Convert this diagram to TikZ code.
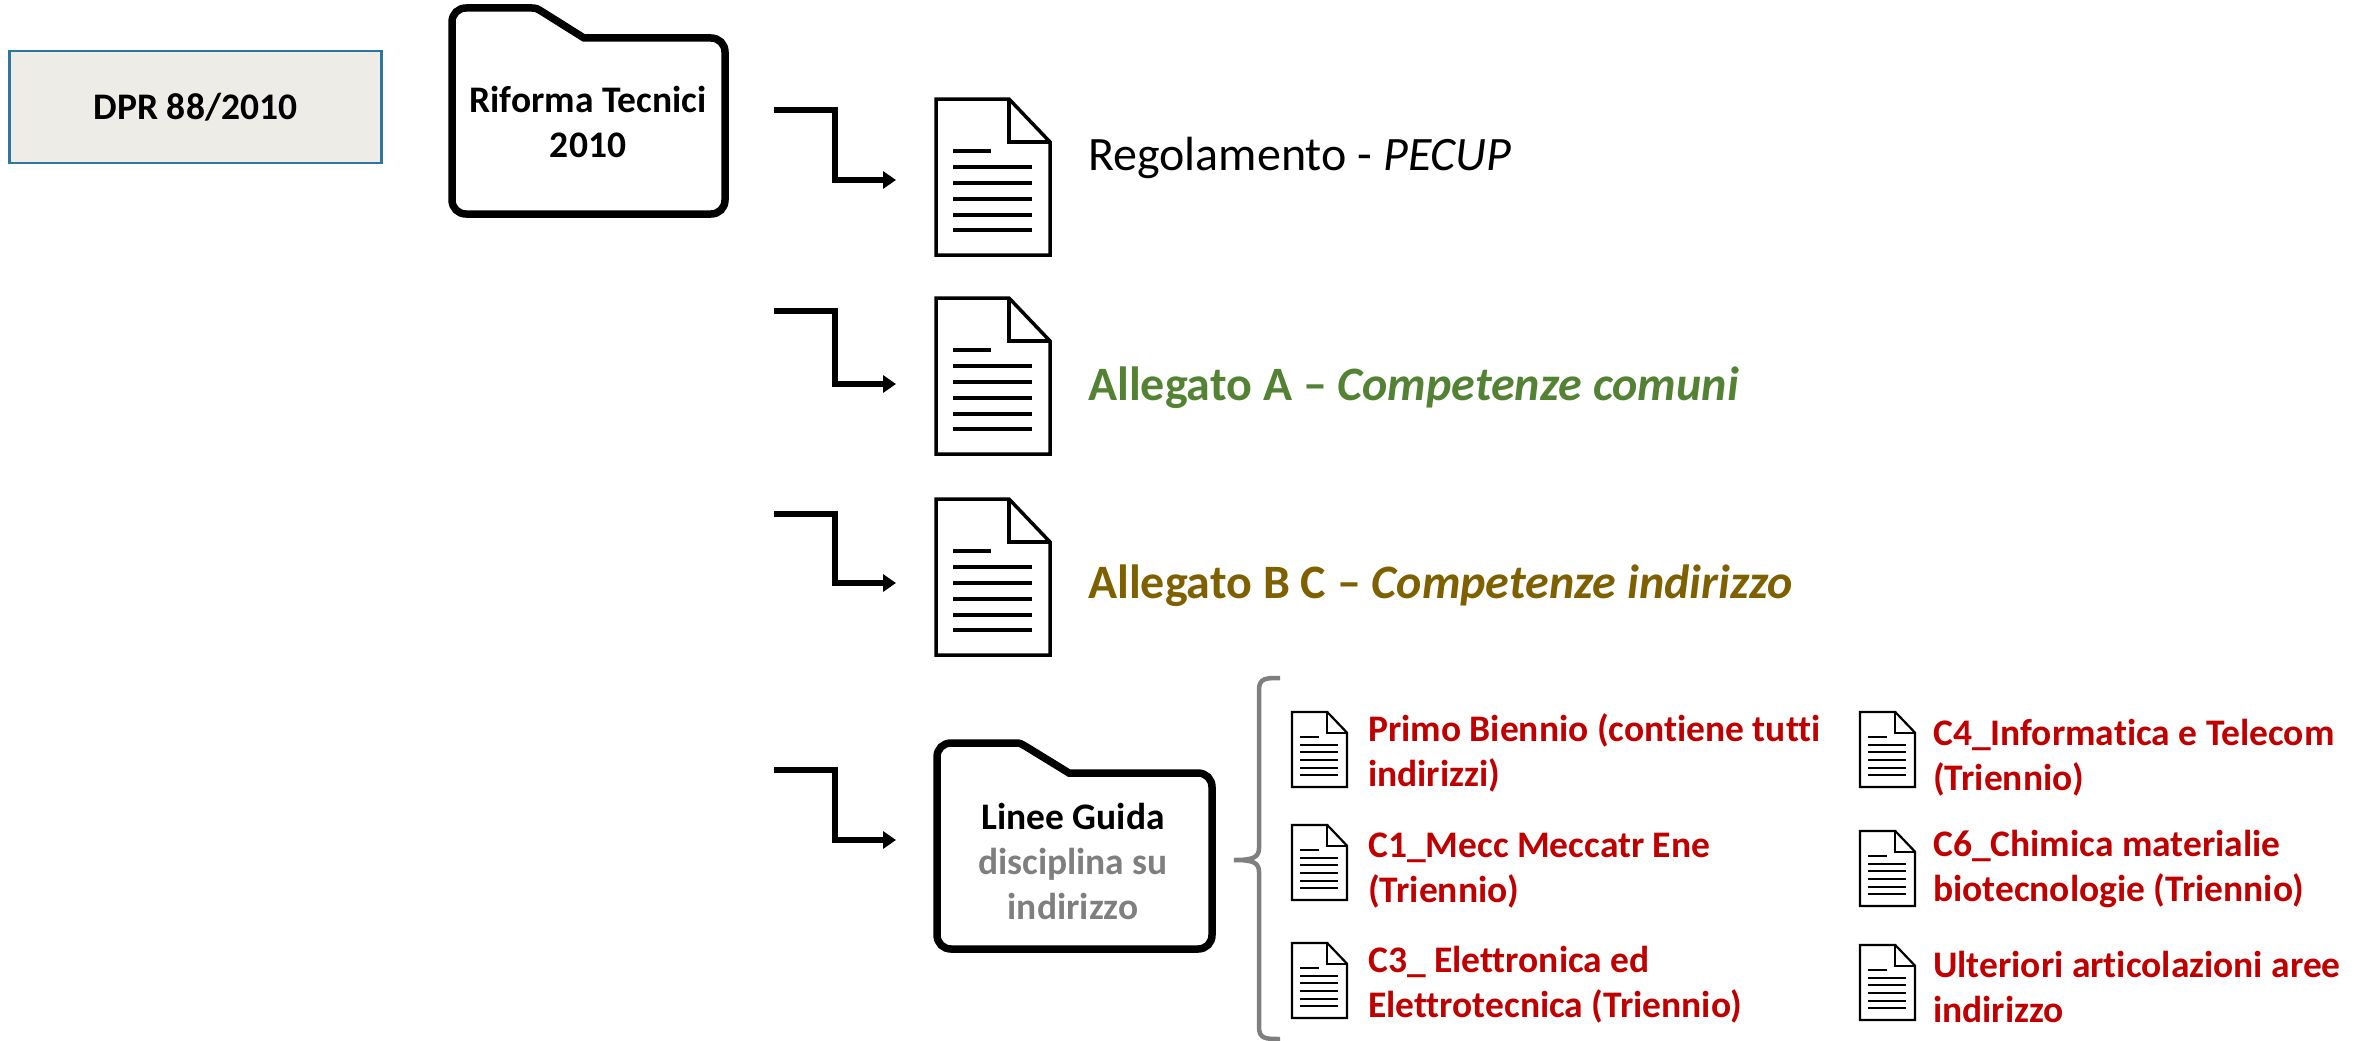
\documentclass[tikz,border=0pt]{standalone}
\usepackage{fontspec}
\setmainfont[Ligatures=NoCommon]{Carlito}
\usetikzlibrary{arrows.meta}
\definecolor{cgreen}{HTML}{548235}
\definecolor{cbrown}{HTML}{7F6000}
\definecolor{cred}{HTML}{C00000}
\definecolor{cgrey}{HTML}{7F7F7F}
\definecolor{cboxfill}{HTML}{EEECE6}
\definecolor{cboxline}{HTML}{2E75A0}
\tikzset{
  foldershape/.style={draw=black,line width=7.5pt,line join=miter},
  flow/.style={draw=black,line width=5.5pt,-{Triangle[length=13pt,width=17pt]}},
  doctext/.style={inner sep=0pt,anchor=west,align=left,text=cred,font=\fontsize{37.5}{45}\selectfont\bfseries},
  foldertext/.style={inner sep=0pt,align=center,font=\fontsize{37.5}{45}\selectfont\bfseries},
  bigtext/.style={inner sep=0pt,anchor=west,font=\fontsize{48}{50}\selectfont},
}
% name, left, top, x-scale, y-scale, outline width, rule width
\newcommand{\docicon}[7]{%
  \node[inner sep=0pt,minimum width={114pt*#4},minimum height={156pt*#5},anchor=north west] (#1) at (#2,#3) {};
  \begin{scope}[shift={(#2,#3)},xscale=#4,yscale=#5]
    \draw[line width=#6,line join=miter,fill=white] (0,0) -- (73,0) -- (114,43) -- (114,156) -- (0,156) -- cycle;
    \draw[line width=#6,line join=miter] (73,0) -- (73,43) -- (114,43);
    \draw[line width=#7] (17,52) -- (55,52);
    \foreach \yy in {68,84,100,116,131}{\draw[line width=#7] (17,\yy) -- (96,\yy);}
  \end{scope}}
\begin{document}
\begin{tikzpicture}[x=1pt,y=-1pt]
\useasboundingbox (0,0) rectangle (2369,1041);

% DPR box
\node[draw=cboxline,line width=2.5pt,fill=cboxfill,inner sep=0pt,minimum width=372pt,minimum height=112pt,font=\fontsize{37.5}{45}\selectfont\bfseries] (dpr) at (195.5,107) {\raisebox{-4pt}{DPR 88/2010}};

% folder 1
\draw[foldershape] (452,22) .. controls (452,14) and (458,8) .. (466,8) -- (532,8)
  .. controls (536,8) and (538,9) .. (541,11) -- (584,38) -- (711,38)
  .. controls (719,38) and (725,44) .. (725,52) -- (725,200)
  .. controls (725,208) and (719,214) .. (711,214) -- (466,214)
  .. controls (458,214) and (452,208) .. (452,200) -- cycle;
\node[foldertext] (riforma) at (588,122) {Riforma Tecnici\\2010};

% folder 2
\draw[foldershape] (937,757) .. controls (937,749) and (943,743) .. (951,743) -- (1016,743)
  .. controls (1020,743) and (1022,744) .. (1025,746) -- (1069,773) -- (1198,773)
  .. controls (1206,773) and (1212,779) .. (1212,787) -- (1212,935)
  .. controls (1212,943) and (1206,949) .. (1198,949) -- (951,949)
  .. controls (943,949) and (937,943) .. (937,935) -- cycle;
\node[foldertext] (linee) at (1073,861) {Linee Guida\\\textcolor{cgrey}{disciplina su}\\\textcolor{cgrey}{indirizzo}};

% large documents
\docicon{d1}{936}{99}{1}{1}{3.5pt}{4pt}
\docicon{d2}{936}{298}{1}{1}{3.5pt}{4pt}
\docicon{d3}{936}{499}{1}{1}{3.5pt}{4pt}

% flow connectors
\foreach \nm/\ya/\yb in {a/110/180,b/311/384,c/514/583,e/770/840}{
  \coordinate (\nm s) at (774,\ya);
  \coordinate (\nm e) at (896,\yb);
  \draw[flow] (\nm s) -- (835,\ya) -- (835,\yb) -- (\nm e);
}

% large labels
\node[bigtext] (t1) at (1088,158) {Regolamento - \textit{PECUP}};
\node[bigtext,text=cgreen,font=\fontsize{48}{50}\selectfont\bfseries] (t2) at (1088,388) {Allegato A – \textit{Competenze comuni}};
\node[bigtext,text=cbrown,font=\fontsize{48}{50}\selectfont\bfseries] (t3) at (1088,586) {Allegato B C – \textit{Competenze indirizzo}};

% brace
\coordinate (bt) at (1280,678);
\coordinate (bb) at (1280,1039);
\coordinate (bm) at (1234,860);
\draw[cgrey,line width=4.5pt] (bt) .. controls (1266,678) and (1259,678) .. (1259,690)
  -- (1259,848) .. controls (1259,858) and (1252,860) .. (bm)
  .. controls (1252,860) and (1259,862) .. (1259,872)
  -- (1259,1027) .. controls (1259,1039) and (1266,1039) .. (bb);

% small documents
\docicon{s1}{1292}{712}{0.4825}{0.4808}{2.2pt}{2pt}
\docicon{s2}{1292}{825}{0.4825}{0.4808}{2.2pt}{2pt}
\docicon{s3}{1292}{943}{0.4825}{0.4808}{2.2pt}{2pt}
\docicon{s4}{1860}{712}{0.4825}{0.4808}{2.2pt}{2pt}
\docicon{s5}{1860}{831}{0.4825}{0.4808}{2.2pt}{2pt}
\docicon{s6}{1860}{945}{0.4825}{0.4808}{2.2pt}{2pt}

% small labels
\node[doctext] (l1) at (1368,753) {Primo Biennio (contiene tutti\\indirizzi)};
\node[doctext] (l2) at (1368,871) {C1\_Mecc Meccatr Ene\\(Triennio)};
\node[doctext] (l3) at (1368,985) {C3\_ Elettronica ed\\Elettrotecnica (Triennio)};
\node[doctext] (l4) at (1933,758) {C4\_Informatica e Telecom\\(Triennio)};
\node[doctext] (l5) at (1933,869) {C6\_Chimica materialie\\biotecnologie (Triennio)};
\node[doctext] (l6) at (1933,987) {Ulteriori articolazioni aree\\indirizzo};
\end{tikzpicture}
\end{document}
